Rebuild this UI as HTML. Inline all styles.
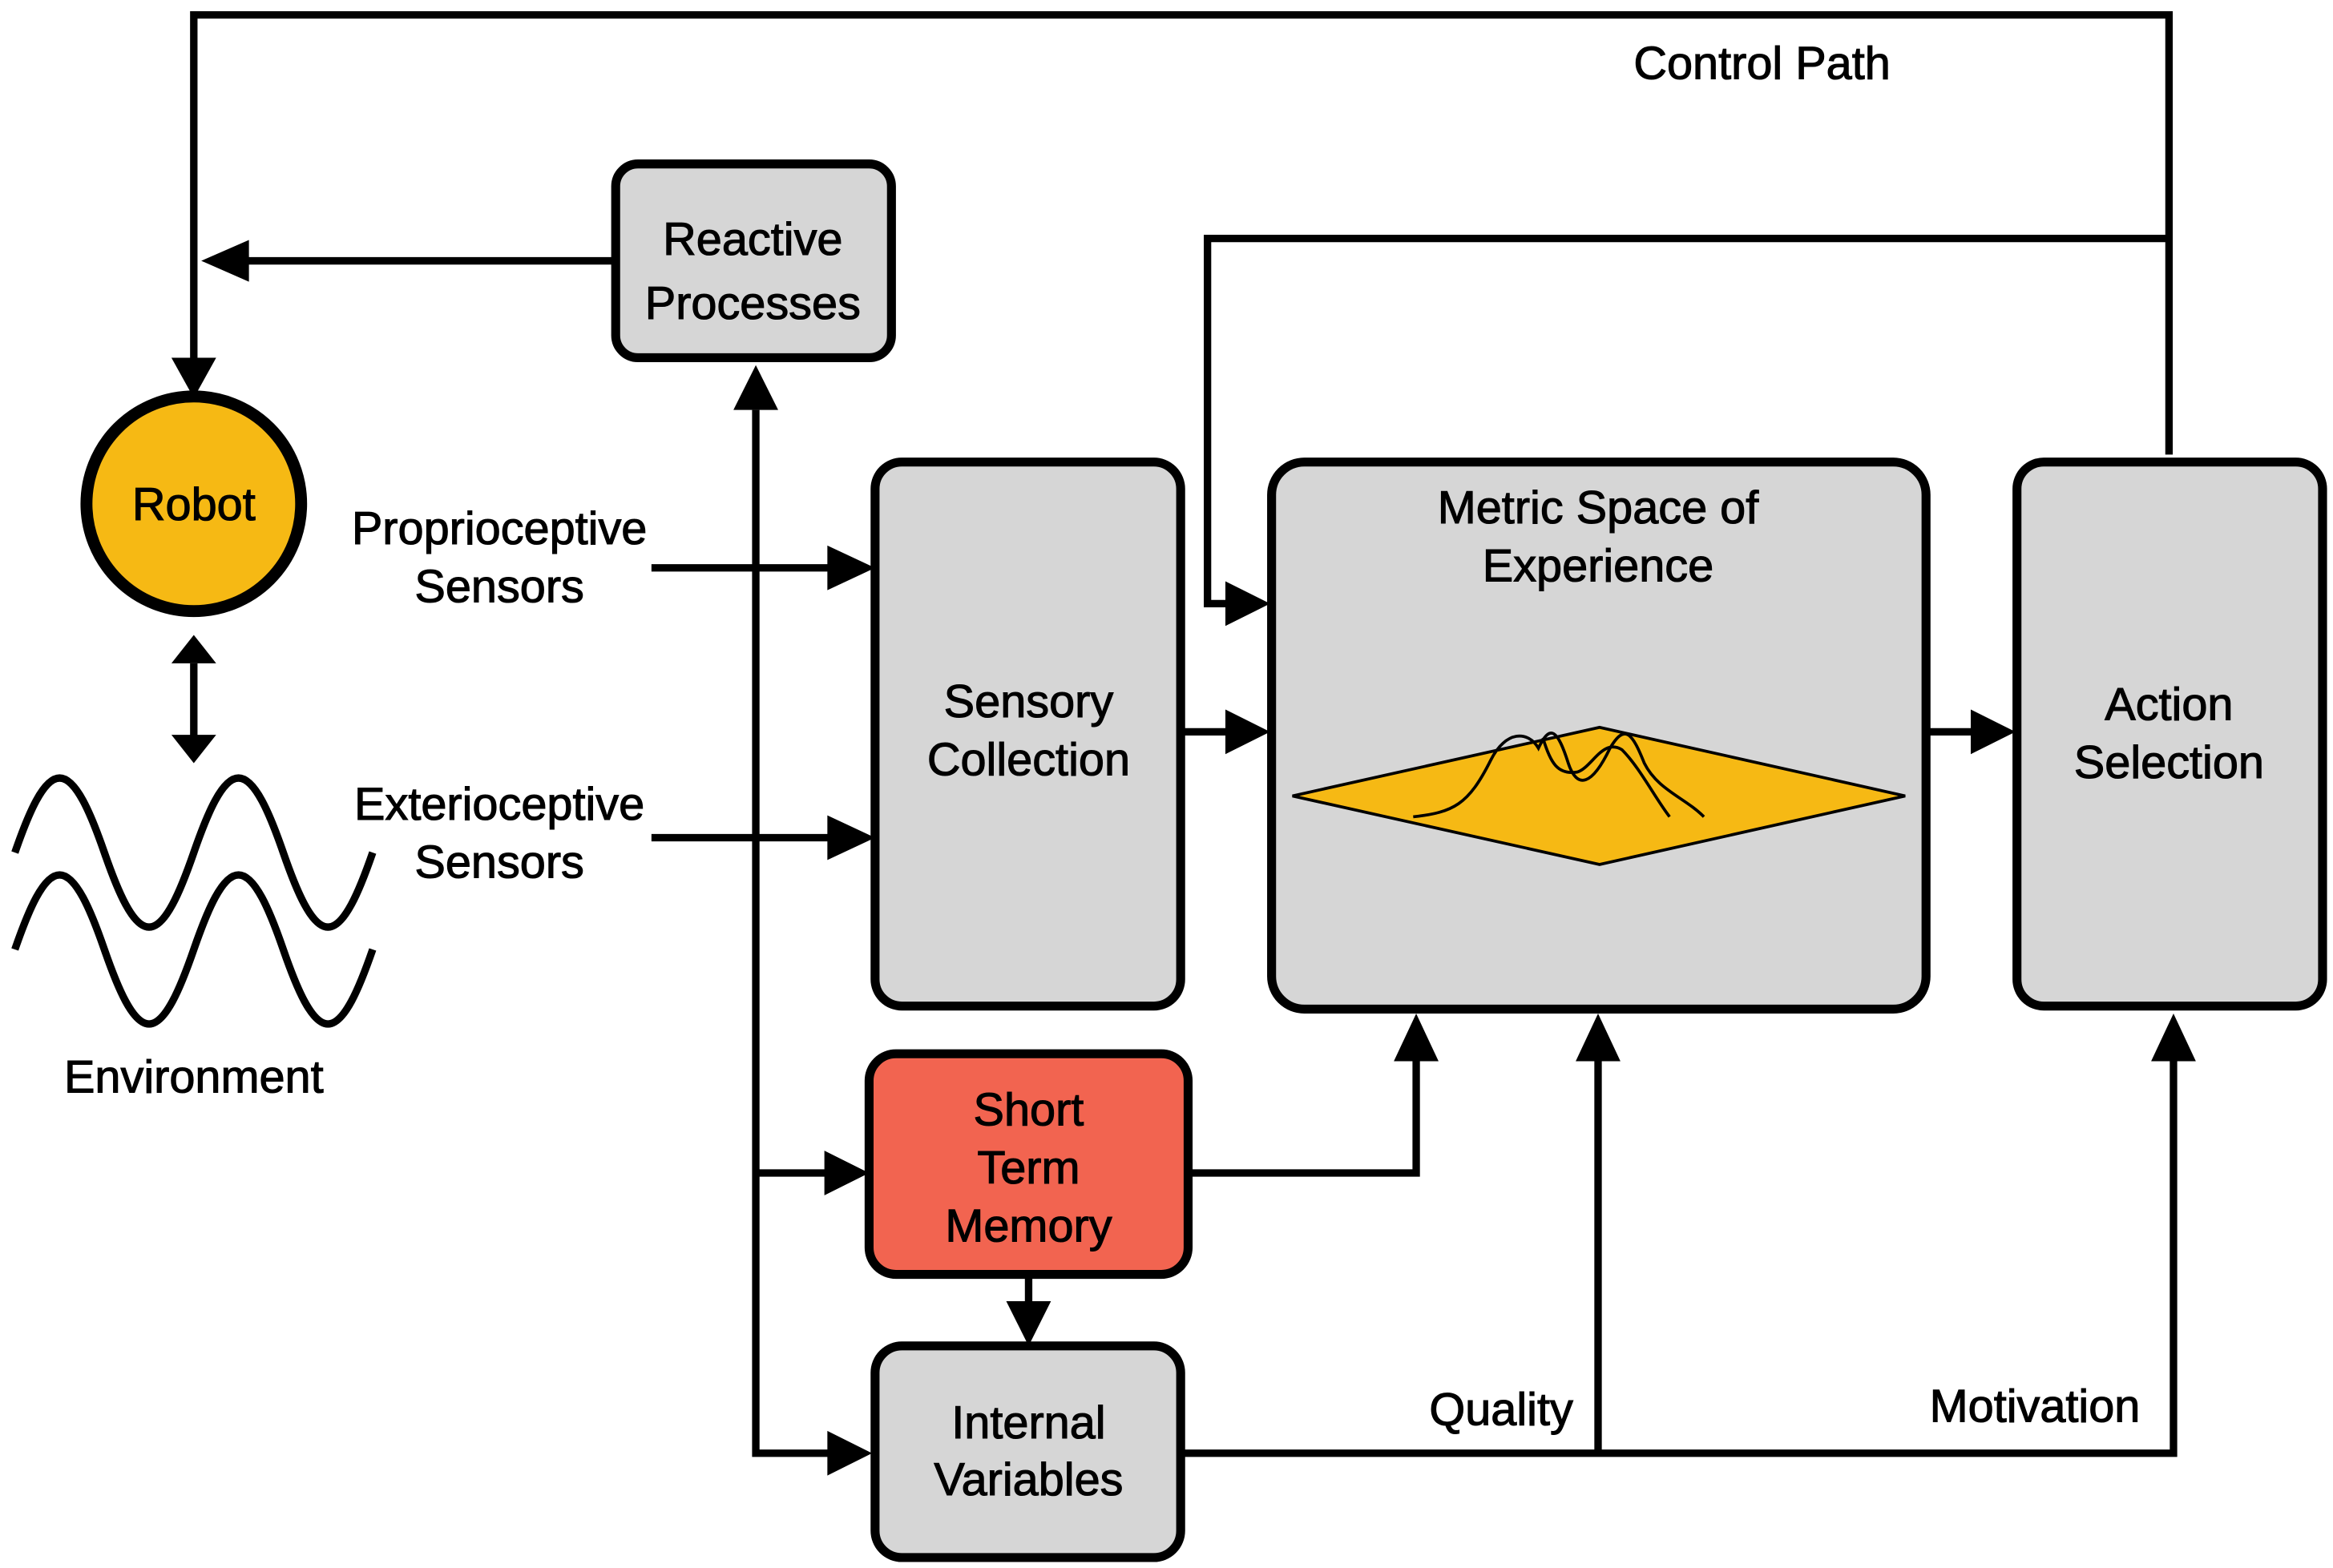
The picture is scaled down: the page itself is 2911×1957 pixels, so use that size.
<!DOCTYPE html>
<html><head><style>html,body{margin:0;padding:0;background:#fff;}svg{display:block}</style></head>
<body>
<svg width="2911" height="1957" viewBox="0 0 1565 1052" preserveAspectRatio="none" xmlns="http://www.w3.org/2000/svg" font-family="Liberation Sans, sans-serif" font-size="31" fill="#000">
<g stroke="#000" stroke-width="5" fill="none">
<path d="M1455,305V10H130V240"/>
<path d="M1455,160H810V405H828"/>
<path d="M413,175H165"/>
<path d="M130,445V495"/>
<path d="M507,275V975H560"/>
<path d="M507,787H558"/>
<path d="M437,381H560"/>
<path d="M437,562H560"/>
<path d="M792,491H826"/>
<path d="M1292,491H1326"/>
<path d="M690,855V878"/>
<path d="M797,787H950V710"/>
<path d="M792,975H1458V710"/>
<path d="M1072,975V710"/>
<path d="M10,572C19,546 29,522 40,522S61,546 70,572S89,622 100,622S121,598 130,572S149,522 160,522S181,546 190,572S209,622 220,622S241,598 250,572"/>
<path d="M10,637C19,611 29,587 40,587S61,611 70,637S89,687 100,687S121,663 130,637S149,587 160,587S181,611 190,637S209,687 220,687S241,663 250,637"/>
</g>
<g fill="#000">
<path d="M115,240H145L130,267z"/>
<path d="M135,175L167,161V189z"/>
<path d="M115,445L130,426L145,445z"/>
<path d="M115,493L130,512L145,493z"/>
<path d="M492,275L507,245L522,275z"/>
<path d="M555,960L585,975L555,990z"/>
<path d="M553,772L583,787L553,802z"/>
<path d="M555,366L587,381L555,396z"/>
<path d="M555,547L587,562L555,577z"/>
<path d="M822,476L852,491L822,506z"/>
<path d="M822,390L852,405L822,420z"/>
<path d="M1322,476L1352,491L1322,506z"/>
<path d="M675,873H705L690,903z"/>
<path d="M935,712L950,680L965,712z"/>
<path d="M1057,712L1072,680L1087,712z"/>
<path d="M1443,712L1458,680L1473,712z"/>
</g>
<g stroke="#000" stroke-width="6">
<rect x="413" y="110" width="185" height="130" rx="15" fill="#d6d6d6"/>
<rect x="587" y="310" width="205" height="365" rx="18" fill="#d6d6d6"/>
<rect x="853" y="310" width="439" height="367" rx="22" fill="#d6d6d6"/>
<rect x="1353" y="310" width="205" height="365" rx="18" fill="#d6d6d6"/>
<rect x="583" y="707" width="214" height="148" rx="18" fill="#f26450"/>
<rect x="587" y="903" width="205" height="142" rx="18" fill="#d6d6d6"/>
<circle cx="130" cy="338" r="72" fill="#f6b914" stroke-width="8"/>
</g>
<path d="M867,534L1073,488L1278,534L1073,580z" fill="#f6b914" stroke="#000" stroke-width="2"/>
<path d="M948,548C975,545 985,540 1000,510C1010,490 1025,490 1032,502C1040,485 1045,490 1052,512C1058,530 1068,527 1080,502C1090,485 1095,492 1103,512C1112,530 1130,535 1143,548" fill="none" stroke="#000" stroke-width="2"/>
<path d="M1035,495C1040,512 1045,520 1058,518C1068,515 1075,495 1088,503C1100,515 1110,535 1120,548" fill="none" stroke="#000" stroke-width="2"/>
<g text-anchor="middle" stroke="#000" stroke-width="0.6">
<text x="130" y="349">Robot</text>
<text x="505" y="171">Reactive</text><text x="505" y="214">Processes</text>
<text x="335" y="365">Proprioceptive</text><text x="335" y="404">Sensors</text>
<text x="335" y="550">Exterioceptive</text><text x="335" y="589">Sensors</text>
<text x="130" y="733">Environment</text>
<text x="690" y="481">Sensory</text><text x="690" y="520">Collection</text>
<text x="1072" y="351">Metric Space of</text><text x="1072" y="390">Experience</text>
<text x="1455" y="483">Action</text><text x="1455" y="522">Selection</text>
<text x="690" y="755">Short</text><text x="690" y="794">Term</text><text x="690" y="833">Memory</text>
<text x="690" y="965">Internal</text><text x="690" y="1003">Variables</text>
<text x="1007" y="956">Quality</text>
<text x="1365" y="954">Motivation</text>
<text x="1182" y="53">Control Path</text>
</g>
</svg>
</body></html>
